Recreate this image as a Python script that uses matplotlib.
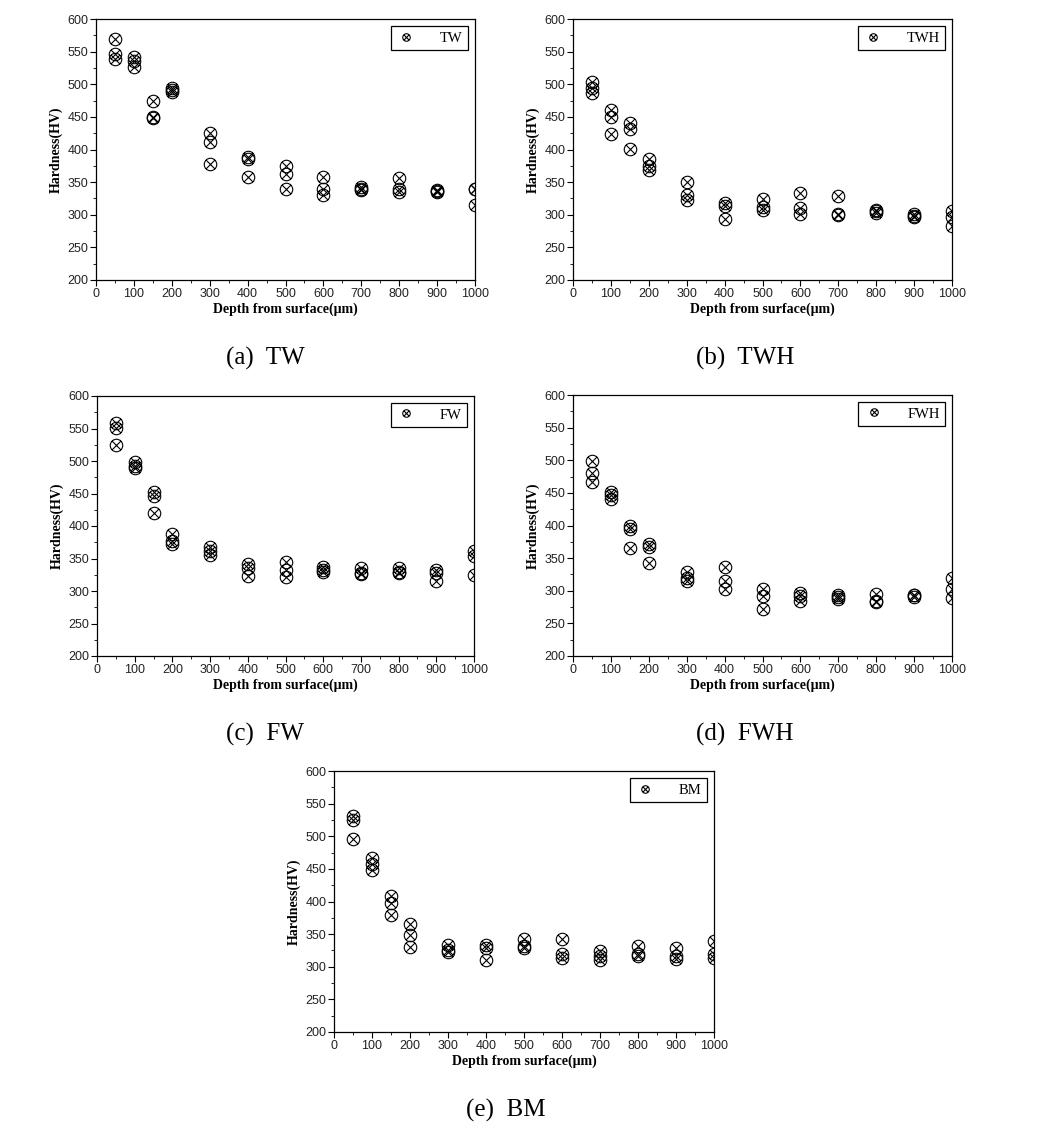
import matplotlib
matplotlib.use('Agg')
import matplotlib.pyplot as plt
from matplotlib.path import Path
from matplotlib.ticker import MultipleLocator

# depth positions (um) and three hardness readings per depth
depth = [50, 100, 150, 200, 300, 400, 500, 600, 700, 800, 900, 1000]

tw = [[569, 546, 538], [542, 535, 526], [475, 450, 448], [495, 491, 488],
      [426, 412, 378], [388, 385, 358], [375, 362, 340], [358, 339, 330],
      [342, 340, 338], [357, 339, 335], [338, 336, 335], [340, 339, 315]]
twh = [[504, 494, 487], [461, 450, 423], [441, 431, 401], [386, 375, 368],
       [350, 330, 322], [318, 314, 293], [324, 312, 307], [334, 310, 301],
       [329, 301, 299], [308, 305, 302], [301, 298, 296], [305, 296, 283]]
fw = [[559, 551, 525], [498, 493, 490], [452, 446, 420], [388, 377, 372],
      [367, 362, 355], [342, 336, 323], [345, 333, 321], [337, 333, 329],
      [335, 328, 326], [335, 330, 327], [332, 328, 316], [362, 354, 325]]
fwh = [[499, 480, 466], [451, 446, 440], [400, 395, 366], [371, 367, 343],
       [329, 320, 315], [337, 315, 302], [302, 292, 272], [296, 292, 285],
       [294, 291, 287], [295, 285, 283], [294, 293, 290], [320, 302, 289]]
bm = [[531, 525, 496], [466, 458, 449], [409, 398, 379], [365, 349, 331],
      [333, 325, 322], [334, 328, 311], [343, 332, 328], [343, 320, 314],
      [324, 316, 310], [332, 320, 316], [329, 317, 312], [340, 320, 313]]

series = [("TW", tw), ("TWH", twh), ("FW", fw), ("FWH", fwh), ("BM", bm)]
captions = ["(a)  TW", "(b)  TWH", "(c)  FW", "(d)  FWH", "(e)  BM"]

W, H = 1042, 1132
# axes boxes in pixels: left, top, right, bottom
boxes = [(96, 19, 475, 280), (573, 19, 952, 280),
         (97, 396, 474, 656), (573, 395, 952, 656),
         (334, 771, 714, 1032)]
caption_pos = [(265, 358), (745, 358), (265, 734), (745, 734), (506, 1110)]

# circle with a cross inside
d = 0.7071
cross_circle = Path.make_compound_path(
    Path.unit_circle(),
    Path([[-d, -d], [d, d]], [Path.MOVETO, Path.LINETO]),
    Path([[-d, d], [d, -d]], [Path.MOVETO, Path.LINETO]))

serif = ['Liberation Serif', 'DejaVu Serif']
sans = ['Liberation Sans', 'DejaVu Sans']

fig = plt.figure(figsize=(W / 100, H / 100), dpi=100)

for (name, vals), box, cap, cpos in zip(series, boxes, captions, caption_pos):
    l, t, r, b = box
    ax = fig.add_axes([l / W, (H - b) / H, (r - l) / W, (b - t) / H])
    xs = [x for x, row in zip(depth, vals) for _ in row]
    ys = [v for row in vals for v in row]
    ax.plot(xs, ys, linestyle='none', marker=cross_circle, ms=9,
            mfc='none', mec='black', mew=0.8, label=name)
    ax.set_xlim(0, 1000)
    ax.set_ylim(200, 600)
    ax.xaxis.set_major_locator(MultipleLocator(100))
    ax.xaxis.set_minor_locator(MultipleLocator(50))
    ax.yaxis.set_major_locator(MultipleLocator(50))
    ax.yaxis.set_minor_locator(MultipleLocator(25))
    ax.tick_params(which='major', direction='out', length=4, width=0.8,
                   labelsize=9, pad=1.5)
    ax.tick_params(which='minor', direction='out', length=2, width=0.6)
    for lab in ax.get_xticklabels() + ax.get_yticklabels():
        lab.set_family(sans)
        lab.set_color('#222222')
    for sp in ax.spines.values():
        sp.set_linewidth(0.9)
    ax.set_xlabel("Depth from surface(\u03bcm)", family=serif,
                  fontweight='bold', fontsize=10, labelpad=2)
    ax.set_ylabel("Hardness(HV)", family=serif, fontweight='bold',
                  fontsize=10, labelpad=3)
    leg = ax.legend(loc='upper right', markerscale=0.6, fancybox=False,
                    framealpha=1, edgecolor='black', handlelength=1.4,
                    handletextpad=1.6, borderpad=0.35, borderaxespad=0.5,
                    prop={'family': serif, 'size': 10.5})
    leg.get_frame().set_linewidth(0.9)
    fig.text(cpos[0] / W, 1 - cpos[1] / H, cap, family=serif, fontsize=18,
             ha='center', va='center')

fig.savefig('out.png', dpi=100)
